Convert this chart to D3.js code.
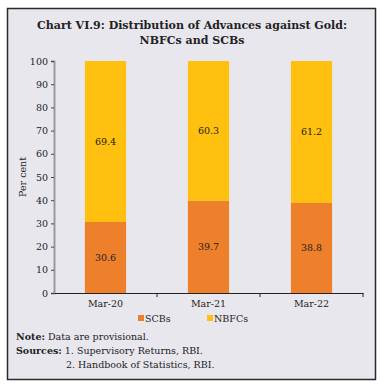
<!DOCTYPE html>
<html>
<head>
<meta charset="utf-8">
<script src="https://cdn.jsdelivr.net/npm/d3@7"></script>
<style>
  html, body { margin: 0; padding: 0; background: #fff; }
</style>
</head>
<body>
<div id="chart"></div>
<script>
const categories = ["Mar-20", "Mar-21", "Mar-22"];
const scbs = [30.6, 39.7, 38.8];
const nbfcs = [69.4, 60.3, 61.2];
const seriesNames = ["SCBs", "NBFCs"];
const yTicks = [0, 10, 20, 30, 40, 50, 60, 70, 80, 90, 100];

const W = 383, H = 385;
const font = "'DejaVu Serif', serif";
const colors = { SCBs: "#EE7F2B", NBFCs: "#FFC010" };

const svg = d3.select("#chart")
  .append("svg")
  .attr("width", W)
  .attr("height", H);

// panel
svg.append("rect")
  .attr("x", 7.5).attr("y", 8.5)
  .attr("width", 368).attr("height", 371)
  .style("fill", "#E9E7EE")
  .style("stroke", "#2a2a2a")
  .style("stroke-width", 1.5);

// title
const title = svg.append("text")
  .attr("text-anchor", "middle")
  .style("font-family", font)
  .style("font-weight", "bold")
  .style("font-size", "11px")
  .style("fill", "#222");
title.append("tspan").attr("x", 192).attr("y", 29).text("Chart VI.9: Distribution of Advances against Gold:");
title.append("tspan").attr("x", 192).attr("y", 44).text("NBFCs and SCBs");

const plotLeft = 54, plotRight = 363, plotTop = 61, plotBottom = 293;

const x = d3.scaleBand()
  .domain(categories)
  .range([plotLeft, plotRight])
  .paddingInner(0.6)
  .paddingOuter(0.3);

const y = d3.scaleLinear()
  .domain([0, 100])
  .range([plotBottom, plotTop]);

const rows = categories.map((c, i) => ({ cat: c, SCBs: scbs[i], NBFCs: nbfcs[i] }));
const stacked = d3.stack().keys(seriesNames)(rows);

// bars
const g = svg.append("g");
stacked.forEach(layer => {
  g.selectAll(null)
    .data(layer)
    .enter()
    .append("rect")
    .attr("x", d => x(d.data.cat))
    .attr("width", x.bandwidth())
    .attr("y", d => y(d[1]))
    .attr("height", d => y(d[0]) - y(d[1]))
    .style("fill", colors[layer.key]);

  g.selectAll(null)
    .data(layer)
    .enter()
    .append("text")
    .attr("text-anchor", "middle")
    .attr("x", d => x(d.data.cat) + x.bandwidth() / 2)
    .attr("y", d => y((d[0] + d[1]) / 2) + 3.5)
    .style("font-family", font)
    .style("font-size", "9.5px")
    .style("fill", "#222")
    .text(d => (d[1] - d[0]).toFixed(1));
});

// y axis
const yAxis = svg.append("g")
  .attr("transform", `translate(${plotLeft},0)`)
  .call(d3.axisLeft(y).tickValues(yTicks).tickSize(3).tickPadding(3));
yAxis.select(".domain").style("stroke", "#999").style("stroke-width", 2);
yAxis.selectAll(".tick line").style("stroke", "#444");
yAxis.selectAll("text")
  .style("font-family", font)
  .style("font-size", "9.5px")
  .style("fill", "#222");

// x axis
const xAxis = svg.append("g")
  .attr("transform", `translate(0,${plotBottom})`)
  .call(d3.axisBottom(x).tickSize(0).tickPadding(7));
xAxis.select(".domain").style("stroke", "#222").style("stroke-width", 1.2);
xAxis.selectAll("text")
  .style("font-family", font)
  .style("font-size", "9.5px")
  .style("fill", "#222");
// boundary ticks between categories
const bounds = categories.map((c, i) => plotLeft + x.step() * (i + 1));
xAxis.selectAll(null)
  .data(bounds)
  .enter()
  .append("line")
  .attr("x1", d => d).attr("x2", d => d)
  .attr("y1", 0).attr("y2", 4)
  .style("stroke", "#222");

// y label
svg.append("text")
  .attr("transform", `translate(26,${(plotTop + plotBottom) / 2}) rotate(-90)`)
  .attr("text-anchor", "middle")
  .style("font-family", font)
  .style("font-size", "9.5px")
  .style("fill", "#222")
  .text("Per cent");

// legend
const legendX = [138, 207];
const legend = svg.append("g");
seriesNames.forEach((s, i) => {
  legend.append("rect")
    .attr("x", legendX[i]).attr("y", 315)
    .attr("width", 6).attr("height", 6)
    .style("fill", colors[s]);
  legend.append("text")
    .attr("x", legendX[i] + 7).attr("y", 322)
    .style("font-family", font)
    .style("font-size", "9.5px")
    .style("fill", "#222")
    .text(s);
});

// notes
const notes = svg.append("g")
  .style("font-family", font)
  .style("font-size", "9.5px")
  .style("fill", "#222");
const n1 = notes.append("text").attr("x", 16).attr("y", 340);
n1.append("tspan").style("font-weight", "bold").text("Note:");
n1.append("tspan").text(" Data are provisional.");
const n2 = notes.append("text").attr("x", 16).attr("y", 354);
n2.append("tspan").style("font-weight", "bold").text("Sources:");
n2.append("tspan").text("  1. Supervisory Returns, RBI.");
notes.append("text").attr("x", 66).attr("y", 368).text("2. Handbook of Statistics, RBI.");
</script>
</body>
</html>
